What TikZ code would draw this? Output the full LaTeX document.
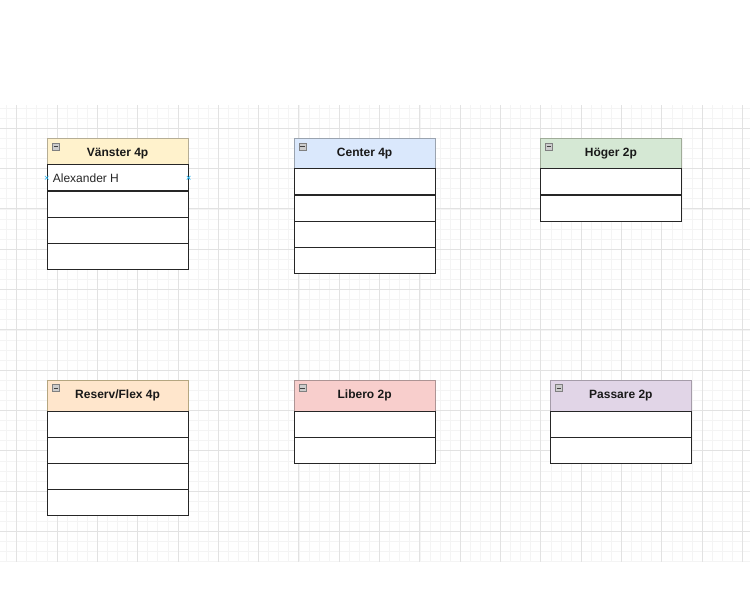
\documentclass[tikz,border=0pt]{standalone}
\usepackage{fontspec}
\setmainfont{Liberation Sans}
\definecolor{minorg}{HTML}{F4F4F4}
\definecolor{majorg}{HTML}{E2E2E2}
\definecolor{yelF}{HTML}{FFF2CC}\definecolor{yelD}{HTML}{D6B656}
\definecolor{bluF}{HTML}{DAE8FC}\definecolor{bluD}{HTML}{6C8EBF}
\definecolor{grnF}{HTML}{D5E8D4}\definecolor{grnD}{HTML}{82B366}
\definecolor{orgF}{HTML}{FFE6CC}\definecolor{orgD}{HTML}{D79B00}
\definecolor{redF}{HTML}{F8CECC}\definecolor{redD}{HTML}{B85450}
\definecolor{purF}{HTML}{E1D5E7}\definecolor{purD}{HTML}{9673A6}
\definecolor{handle}{HTML}{29B6F2}
\begin{document}
\begin{tikzpicture}[x=1pt,y=-1pt,
  hdr/.style={draw=#1D!50!black!50, fill=#1F, line width=0.8pt, minimum width=141pt, anchor=north west,
    inner sep=0pt, font=\fontsize{12}{14}\selectfont\bfseries, text=black!90},
  rowbox/.style={draw=black!85, fill=white, line width=0.9pt, minimum width=141pt,
    minimum height=26pt, anchor=north west, inner sep=0pt},
  iconbox/.style={draw=black!50, fill=black!20, line width=0.6pt, minimum width=7pt,
    minimum height=7pt, inner sep=0pt},
  minus/.style={draw=black!75, line width=0.8pt},
  selhandle/.style={draw=handle, line width=0.6pt}
]
\useasboundingbox (0,0) rectangle (750,608);
\fill[white] (0,0) rectangle (750,608);
% grid
\foreach \k in {0,...,74}{\pgfmathsetmacro\xx{6.6+10.08*\k}
  \draw[minorg, line width=0.7pt] (\xx,105) -- (\xx,562);}
\foreach \k in {0,...,45}{\pgfmathsetmacro\yy{108.1+10.08*\k}
  \draw[minorg, line width=0.7pt] (0,\yy) -- (750,\yy);}
\foreach \k in {0,...,18}{\pgfmathsetmacro\xx{16.7+40.32*\k}
  \draw[majorg, line width=0.9pt] (\xx,105) -- (\xx,562);}
\foreach \k in {0,...,10}{\pgfmathsetmacro\yy{128.3+40.32*\k}
  \draw[majorg, line width=0.9pt] (0,\yy) -- (750,\yy);}

% Vänster
\node[hdr=yel, minimum height=26pt, text depth=0pt] (vh) at (46.7,138.3) {\raisebox{-0.8pt}{Vänster 4p}};
\node[rowbox] (v1) at (46.7,164.3) {};
\node[rowbox] (v2) at (46.7,190.7) {};
\node[rowbox] (v3) at (46.7,217) {};
\node[rowbox] (v4) at (46.7,243.3) {};
\node[anchor=west, inner sep=0pt, font=\fontsize{12}{14}\selectfont, text=black!85] (vt) at (52.7,177.8) {Alexander H};
\draw[selhandle] ([shift={(-1.8,-1.8)}]v1.west) -- ([shift={(1.8,1.8)}]v1.west)
  ([shift={(-1.8,1.8)}]v1.west) -- ([shift={(1.8,-1.8)}]v1.west);
\draw[selhandle] ([shift={(-1.8,-1.8)}]v1.east) -- ([shift={(1.8,1.8)}]v1.east)
  ([shift={(-1.8,1.8)}]v1.east) -- ([shift={(1.8,-1.8)}]v1.east);
\node[iconbox] (vi) at (55.8,146.3) {};
\draw[minus] ([xshift=1.5pt]vi.west) -- ([xshift=-1.5pt]vi.east);

% Center
\node[hdr=blu, minimum height=30pt] (ch) at (293.7,138.3) {Center 4p};
\node[rowbox] (c1) at (293.7,168.3) {};
\node[rowbox] (c2) at (293.7,195) {};
\node[rowbox] (c3) at (293.7,221) {};
\node[rowbox] (c4) at (293.7,247.3) {};
\node[iconbox] (ci) at (302.3,146.6) {};
\draw[minus] ([xshift=1.5pt]ci.west) -- ([xshift=-1.5pt]ci.east);

% Höger
\node[hdr=grn, minimum height=30pt] (hh) at (540,138.3) {Höger 2p};
\node[rowbox] (h1) at (540,168.3) {};
\node[rowbox] (h2) at (540,195) {};
\node[iconbox] (hi) at (548.8,146.6) {};
\draw[minus] ([xshift=1.5pt]hi.west) -- ([xshift=-1.5pt]hi.east);

% Reserv/Flex
\node[hdr=org, minimum height=30.7pt] (rh) at (46.7,380) {Reserv/Flex 4p};
\node[rowbox] (r1) at (46.7,410.7) {};
\node[rowbox] (r2) at (46.7,436.7) {};
\node[rowbox] (r3) at (46.7,462.7) {};
\node[rowbox] (r4) at (46.7,489) {};
\node[iconbox] (ri) at (55.8,388.2) {};
\draw[minus] ([xshift=1.5pt]ri.west) -- ([xshift=-1.5pt]ri.east);

% Libero
\node[hdr=red, minimum height=30.7pt] (lh) at (293.7,380) {Libero 2p};
\node[rowbox] (l1) at (293.7,410.7) {};
\node[rowbox] (l2) at (293.7,436.7) {};
\node[iconbox] (li) at (302.5,388.2) {};
\draw[minus] ([xshift=1.5pt]li.west) -- ([xshift=-1.5pt]li.east);

% Passare
\node[hdr=pur, minimum height=30.7pt] (ph) at (550,380) {Passare 2p};
\node[rowbox] (p1) at (550,410.7) {};
\node[rowbox] (p2) at (550,436.7) {};
\node[iconbox] (pi) at (558.8,388.2) {};
\draw[minus] ([xshift=1.5pt]pi.west) -- ([xshift=-1.5pt]pi.east);
\end{tikzpicture}
\end{document}
